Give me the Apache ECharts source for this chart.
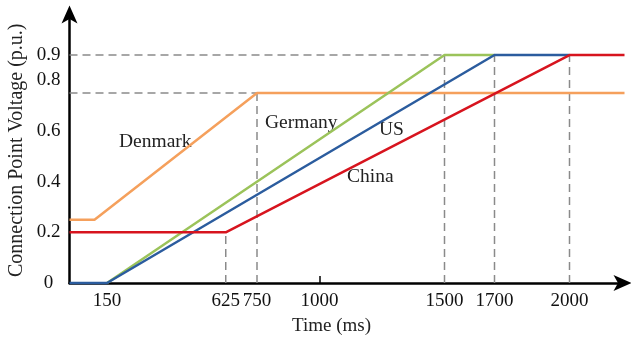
<!DOCTYPE html>
<html><head><meta charset="utf-8">
<script src="https://cdn.jsdelivr.net/npm/echarts@6/dist/echarts.min.js"></script>
<style>html,body{margin:0;padding:0;background:#fff}#c{width:631px;height:338px}</style>
</head><body><div id="c"></div>
<script>
// Data
const xTickLabels = [150, 625, 750, 1000, 1500, 1700, 2000];
const yTickLabels = [0, 0.2, 0.4, 0.6, 0.8, 0.9];
const denmark = [[0, 0.25], [100, 0.25], [750, 0.75], [2220, 0.75]];
const germany = [[150, 0], [1500, 0.9], [1700, 0.9]];
const us = [[0, 0], [150, 0], [1700, 0.9], [2000, 0.9]];
const china = [[0, 0.2], [625, 0.2], [2000, 0.9], [2220, 0.9]];
// Guide lines
const guideVX = [625, 750, 1500, 1700, 2000];
const guideVTop = [0.2, 0.75, 0.9, 0.9, 0.9];
const guideHY = [0.9, 0.75];
const guideHEnd = [1500, 750];

const font = 'Liberation Serif';
const guideStyle = {color: '#8a8a8a', width: 1.5, type: [8, 5]};
const series = [];
guideVX.forEach((x, i) => series.push({type: 'line', data: [[x, 0], [x, guideVTop[i]]], symbol: 'none', lineStyle: guideStyle, silent: true, z: 1}));
guideHY.forEach((y, i) => series.push({type: 'line', data: [[0, y], [guideHEnd[i], y]], symbol: 'none', lineStyle: guideStyle, silent: true, z: 1}));
const mk = (d, c) => ({type: 'line', data: d, symbol: 'none', lineStyle: {color: c, width: 2.5}, clip: false, z: 3});
series.push(mk(denmark, '#F5A05C'));
series.push(mk(germany, '#9BC35A'));
series.push(mk(us, '#2B5C9E'));
series.push(mk(china, '#D7141E'));

const tf = '19.5px "Liberation Serif"';
const chart = echarts.init(document.getElementById('c'), null, {renderer: 'canvas'});
chart.setOption({
  animation: false,
  backgroundColor: '#fff',
  textStyle: {fontFamily: font},
  grid: {left: 69.5, top: 14.5, width: 555, height: 268.5},
  xAxis: {
    type: 'value', min: 0, max: 2220,
    splitLine: {show: false},
    axisLine: {lineStyle: {color: '#000', width: 2.5}, symbol: ['none', 'arrow'], symbolSize: [12, 18], symbolOffset: [0, 7]},
    axisTick: {show: true, inside: true, length: 7, customValues: [1000], lineStyle: {color: '#000', width: 1.5}},
    axisLabel: {customValues: xTickLabels, formatter: v => String(v), color: '#111', fontSize: 19, fontFamily: font, margin: 9}
  },
  yAxis: {
    type: 'value', min: 0, max: 1.06,
    splitLine: {show: false},
    axisLine: {lineStyle: {color: '#000', width: 2.5}, symbol: ['none', 'arrow'], symbolSize: [12, 18], symbolOffset: [0, 9]},
    axisTick: {show: false},
    axisLabel: {customValues: yTickLabels, formatter: v => String(v), align: 'center', color: '#111', fontSize: 19, fontFamily: font, margin: 21}
  },
  graphic: [
    {type: 'text', left: 119, top: 132, style: {text: 'Denmark', font: tf, fill: '#222'}},
    {type: 'text', left: 265, top: 113, style: {text: 'Germany', font: tf, fill: '#222'}},
    {type: 'text', left: 379, top: 120, style: {text: 'US', font: tf, fill: '#222'}},
    {type: 'text', left: 347, top: 167, style: {text: 'China', font: tf, fill: '#222'}},
    {type: 'text', left: 292, top: 317, style: {text: 'Time (ms)', font: '19px "Liberation Serif"', fill: '#222'}},
    {type: 'text', x: 7, y: 277, rotation: Math.PI / 2, style: {text: 'Connection Point Voltage (p.u.)', font: '20px "Liberation Serif"', fill: '#222', verticalAlign: 'top'}}
  ],
  series: series
});
</script></body></html>
